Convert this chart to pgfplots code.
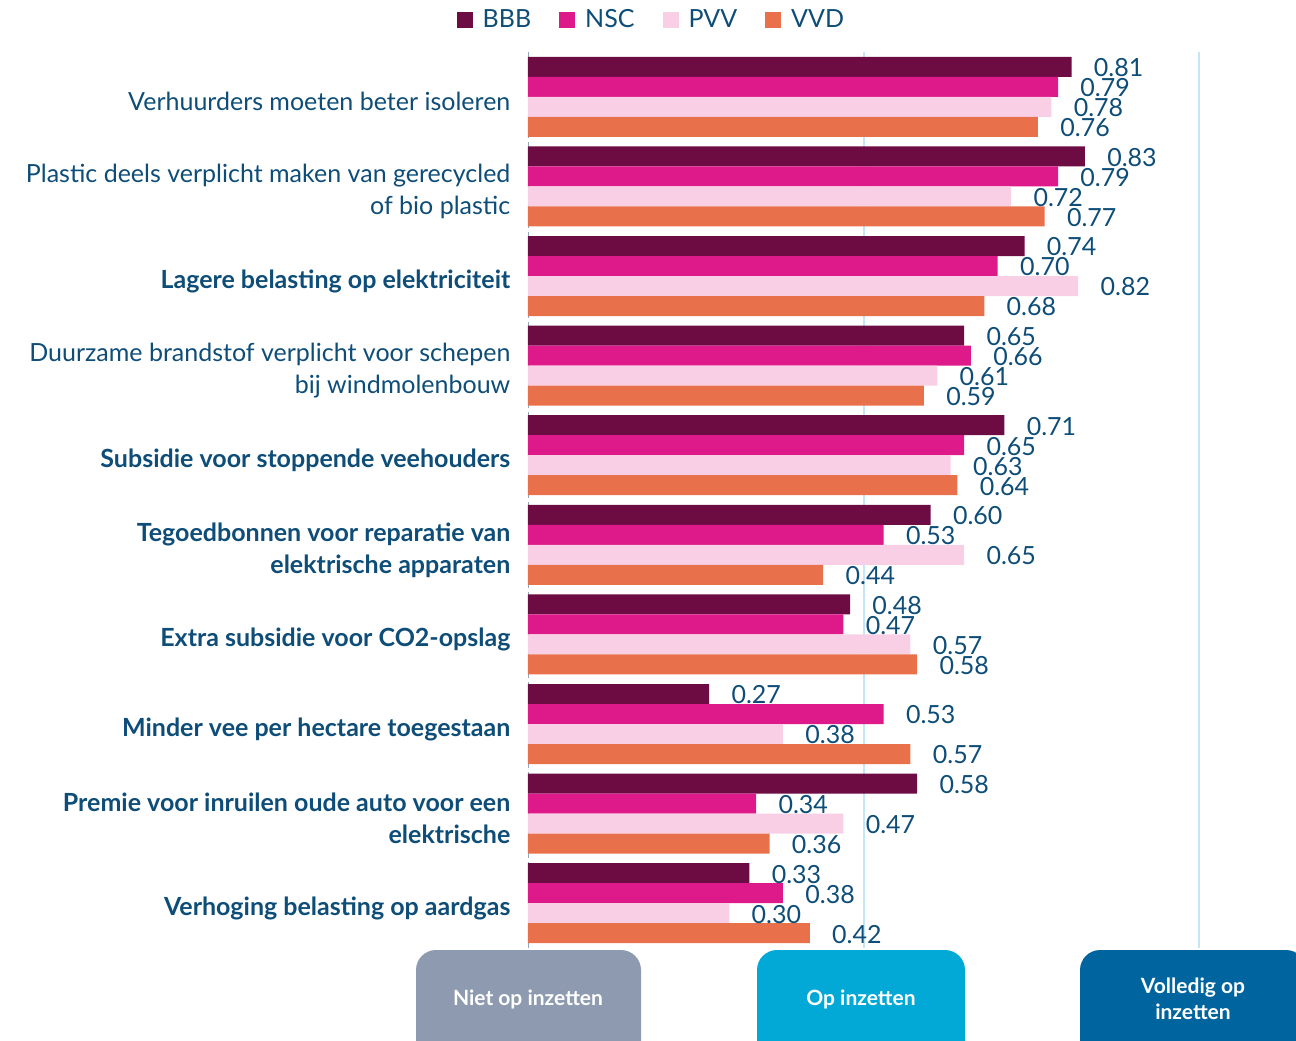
\documentclass[border=0pt]{standalone}
\usepackage{pgfplots}
\pgfplotsset{compat=1.18}
\usepackage{fontspec}
\setmainfont{Lato}
\definecolor{bbb}{HTML}{6D0B43}
\definecolor{nsc}{HTML}{DE1A8A}
\definecolor{pvv}{HTML}{F9CFE6}
\definecolor{vvd}{HTML}{E8714C}
\definecolor{txt}{HTML}{0E4D78}
\definecolor{gridc}{HTML}{C5E6F8}
\definecolor{tickc}{HTML}{8FA8BF}
\definecolor{boxgray}{HTML}{8E9AB0}
\definecolor{boxcyan}{HTML}{02A8D6}
\definecolor{boxblue}{HTML}{00659F}
\begin{document}
\begin{tikzpicture}
\useasboundingbox (0,0) rectangle (648pt,-520pt);
\begin{axis}[
  at={(264pt,-474pt)}, anchor=south west,
  scale only axis, width=384pt, height=448pt,
  xbar, bar width=0.2232,
  xmin=0, xmax=1.14456, ymin=-0.5, ymax=9.5, y dir=reverse,
  axis lines=left, axis line style={-},
  x axis line style={draw=none},
  y axis line style={draw=tickc, densely dashed, line width=0.4pt},
  xtick={0.5,1}, xticklabels={}, xmajorgrids=true,
  grid style={draw=gridc, line width=1pt},
  major x tick style={draw=none},
  ytick={0,...,9},
  major y tick style={draw=none},
  extra y ticks={-0.5,0.5,...,9.5}, extra y tick labels={},
  extra y tick style={major tick length=4pt, tick align=outside, major tick style={draw=tickc, densely dashed, line width=0.4pt}, ymajorgrids=false},
  yticklabels={
    {Verhuurders moeten beter isoleren},
    {Plastic deels verplicht maken van gerecycled\\of bio plastic},
    {\textbf{Lagere belasting op elektriciteit}},
    {Duurzame brandstof verplicht voor schepen\\bij windmolenbouw},
    {\textbf{Subsidie voor stoppende veehouders}},
    {\textbf{Tegoedbonnen voor reparatie van}\\\textbf{elektrische apparaten}},
    {\textbf{Extra subsidie voor CO2-opslag}},
    {\textbf{Minder vee per hectare toegestaan}},
    {\textbf{Premie voor inruilen oude auto voor een}\\\textbf{elektrische}},
    {\textbf{Verhoging belasting op aardgas}}},
  yticklabel style={font=\fontsize{12.5}{16}\selectfont, text=txt, align=right, inner sep=0pt, xshift=-6.5pt, yshift=-2.5pt},
  nodes near coords={\pgfmathprintnumber[fixed,fixed zerofill,precision=2,assume math mode=true]{\pgfplotspointmeta}},
  nodes near coords style={font=\fontsize{12.5}{14}\selectfont, text=txt, anchor=west, inner sep=0pt, xshift=11pt, yshift=-0.5pt},
  legend style={at={(0.162,1.036)}, anchor=center, draw=none, fill=none, font=\fontsize{12.5}{14}\selectfont, text=txt,
    legend columns=4},
  legend image code/.code={\fill[#1] (0pt,-4pt) rectangle (8pt,4pt); \path (0pt,0pt) (9.5pt,0pt);},
]
\addplot[fill=bbb, draw=none, bar shift=-0.3348] coordinates {(0.81,0) (0.83,1) (0.74,2) (0.65,3) (0.71,4) (0.60,5) (0.48,6) (0.27,7) (0.58,8) (0.33,9)};
\addplot[fill=nsc, draw=none, bar shift=-0.1116] coordinates {(0.79,0) (0.79,1) (0.70,2) (0.66,3) (0.65,4) (0.53,5) (0.47,6) (0.53,7) (0.34,8) (0.38,9)};
\addplot[fill=pvv, draw=none, bar shift=0.1116] coordinates {(0.78,0) (0.72,1) (0.82,2) (0.61,3) (0.63,4) (0.65,5) (0.57,6) (0.38,7) (0.47,8) (0.30,9)};
\addplot[fill=vvd, draw=none, bar shift=0.3348] coordinates {(0.76,0) (0.77,1) (0.68,2) (0.59,3) (0.64,4) (0.44,5) (0.58,6) (0.57,7) (0.36,8) (0.42,9)};
\legend{\rule{1.5pt}{0pt}BBB\rule{12pt}{0pt},\rule{1.5pt}{0pt}NSC\rule{12pt}{0pt},\rule{1.5pt}{0pt}PVV\rule{12pt}{0pt},\rule{1.5pt}{0pt}VVD}
\end{axis}
\fill[boxgray, rounded corners=10pt] (208pt,-475pt) rectangle (320.5pt,-540pt);
\fill[boxcyan, rounded corners=10pt] (378.5pt,-475pt) rectangle (482.5pt,-540pt);
\fill[boxblue, rounded corners=10pt] (540pt,-475pt) rectangle (653pt,-540pt);
\node[text=white, font=\fontsize{10.5}{13}\selectfont\bfseries] at (264pt,-499.5pt) {Niet op inzetten};
\node[text=white, font=\fontsize{10.5}{13}\selectfont\bfseries] at (430.5pt,-499.5pt) {Op inzetten};
\node[text=white, font=\fontsize{10.5}{13}\selectfont\bfseries, align=center] at (596.5pt,-499.5pt) {Volledig op\\inzetten};
\end{tikzpicture}
\end{document}
